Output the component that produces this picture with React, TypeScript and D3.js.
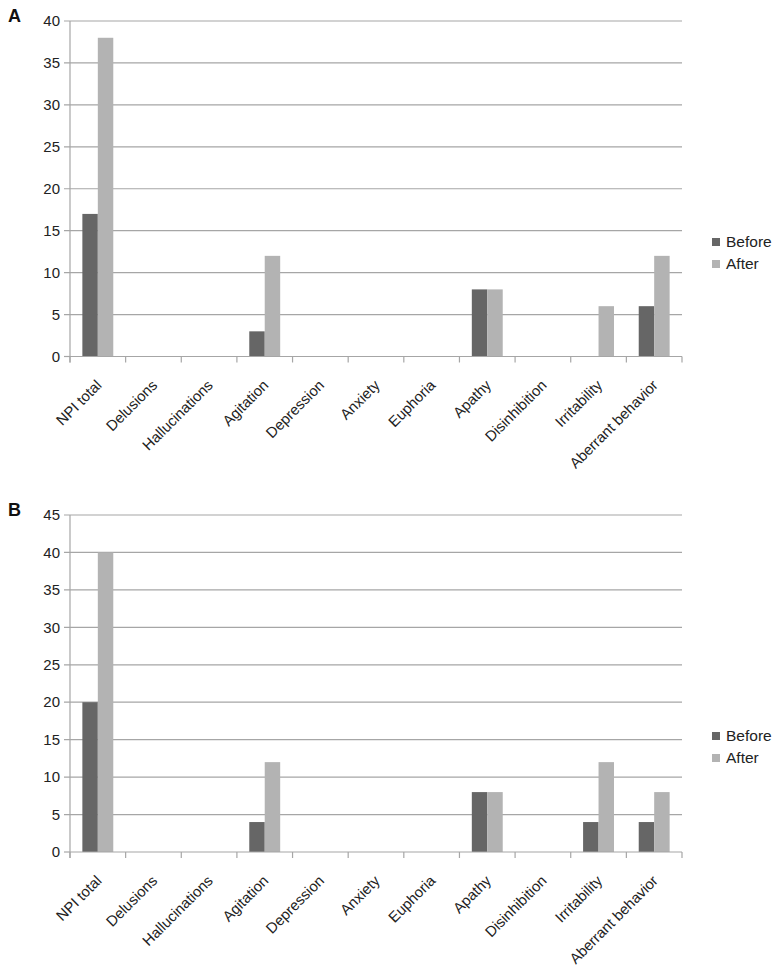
import React from "react";
import * as d3 from "d3";

const categories = [
  "NPI total",
  "Delusions",
  "Hallucinations",
  "Agitation",
  "Depression",
  "Anxiety",
  "Euphoria",
  "Apathy",
  "Disinhibition",
  "Irritability",
  "Aberrant behavior",
];
const series = ["Before", "After"];
const colors = ["#666666", "#b3b3b3"];

const beforeA = [17, 0, 0, 3, 0, 0, 0, 8, 0, 0, 6];
const afterA = [38, 0, 0, 12, 0, 0, 0, 8, 0, 6, 12];
const ticksA = [0, 5, 10, 15, 20, 25, 30, 35, 40];

const beforeB = [20, 0, 0, 4, 0, 0, 0, 8, 0, 4, 4];
const afterB = [40, 0, 0, 12, 0, 0, 0, 8, 0, 12, 8];
const ticksB = [0, 5, 10, 15, 20, 25, 30, 35, 40, 45];

const FONT = "'Liberation Sans', Arial, sans-serif";
const GRID = "#a6a6a6";

type PanelProps = {
  label: string;
  top: number;
  bottom: number;
  yMax: number;
  ticks: number[];
  values: number[][];
  legendY: number;
};

const Panel = ({ label, top, bottom, yMax, ticks, values, legendY }: PanelProps) => {
  const left = 70;
  const right = 682;
  const x = d3.scaleBand<string>().domain(categories).range([left, right]);
  const inner = d3
    .scaleBand<string>()
    .domain(series)
    .range([0, x.bandwidth()])
    .paddingOuter(0.8);
  const y = d3.scaleLinear().domain([0, yMax]).range([bottom, top]);
  const boundaries = categories.map((c) => x(c) as number).concat([right]);

  return (
    <g>
      <text x={8} y={top + 1} fontFamily={FONT} fontWeight="bold" fontSize={18} fill="#111">
        {label}
      </text>
      {ticks.map((t) => (
        <g key={t}>
          <line x1={left - 6} x2={t === 0 ? left : right} y1={y(t)} y2={y(t)} stroke={GRID} strokeWidth={1.2} />
          <text
            x={left - 10}
            y={y(t)}
            dy="0.35em"
            textAnchor="end"
            fontFamily={FONT}
            fontSize={15}
            fill="#222"
          >
            {t}
          </text>
        </g>
      ))}
      {categories.map((c, i) =>
        series.map((s, j) => {
          const v = values[j][i];
          if (!v) return null;
          return (
            <rect
              key={c + s}
              x={(x(c) as number) + (inner(s) as number)}
              width={inner.bandwidth()}
              y={y(v)}
              height={y(0) - y(v)}
              fill={colors[j]}
            />
          );
        })
      )}
      <line x1={left} x2={left} y1={top} y2={bottom + 6} stroke={GRID} strokeWidth={1.2} />
      <line x1={left} x2={right} y1={bottom} y2={bottom} stroke={GRID} strokeWidth={1.2} />
      {boundaries.map((bx, i) => (
        <line key={i} x1={bx} x2={bx} y1={bottom} y2={bottom + 6} stroke={GRID} strokeWidth={1.2} />
      ))}
      {categories.map((c) => {
        const cx = (x(c) as number) + x.bandwidth() / 2 + 1;
        const cy = bottom + 26;
        return (
          <text
            key={c}
            transform={`translate(${cx},${cy}) rotate(-45)`}
            textAnchor="end"
            dy="0.35em"
            fontFamily={FONT}
            fontSize={14.8}
            fill="#222"
          >
            {c}
          </text>
        );
      })}
      {series.map((s, j) => (
        <g key={s} transform={`translate(712,${legendY + j * 22})`}>
          <rect x={0} y={0} width={8} height={8} fill={colors[j]} />
          <text x={14} y={4} dy="0.35em" fontFamily={FONT} fontSize={15.5} fill="#222">
            {s}
          </text>
        </g>
      ))}
    </g>
  );
};

export default function App() {
  return (
    <svg
      width={780}
      height={980}
      style={{ position: "absolute", left: 0, top: 0, background: "#fff" }}
    >
      <rect width={780} height={980} fill="#fff" />
      <Panel label="A" top={21} bottom={356.5} yMax={40} ticks={ticksA} values={[beforeA, afterA]} legendY={238} />
      <Panel label="B" top={515} bottom={852} yMax={45} ticks={ticksB} values={[beforeB, afterB]} legendY={732} />
    </svg>
  );
}
